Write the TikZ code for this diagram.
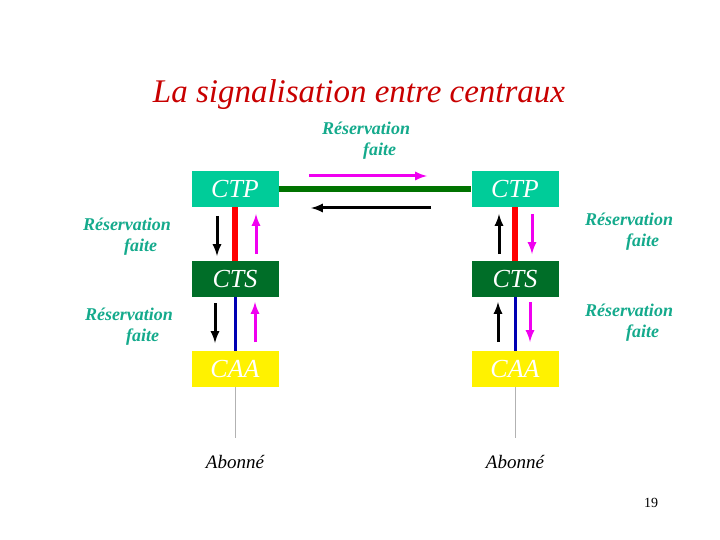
\documentclass[tikz,border=0pt]{standalone}
\usepackage{fontspec}
\setmainfont{Liberation Serif}
\definecolor{ctpfill}{RGB}{0,204,153}
\definecolor{ctsfill}{RGB}{0,110,40}
\definecolor{resa}{RGB}{20,170,140}
\definecolor{titlered}{RGB}{200,0,0}
\definecolor{sigpink}{RGB}{240,0,240}
\tikzset{
  box/.style={minimum width=87pt,minimum height=36pt,inner sep=0pt,
    text=white,font=\itshape\fontsize{26}{26}\selectfont},
  note/.style={text=resa,align=center,font=\bfseries\itshape\fontsize{18}{21}\selectfont},
  sig/.style={line width=3pt,-latex},
}
\begin{document}
\begin{tikzpicture}[x=1pt,y=-1pt]
  \useasboundingbox (0,0) rectangle (720,540);
  \node[text=titlered,font=\itshape\fontsize{33}{33}\selectfont] (title) at (359,95) {La signalisation entre centraux};
  % the two sides
  \foreach \s/\x in {L/235,R/515}{
    \node[box,fill=ctpfill] (ctp\s) at (\x,189) {CTP};
    \node[box,fill=ctsfill] (cts\s) at (\x,279) {CTS};
    \node[box,fill=yellow] (caa\s) at (\x,369) {CAA};
    \node[font=\itshape\fontsize{19}{19}\selectfont] (ab\s) at (\x,462) {Abonné};
    \coordinate (end\s) at (\x,438);
    \draw[red,line width=6pt] (ctp\s) -- (cts\s);
    \draw[blue!70!black,line width=3pt] (cts\s) -- (caa\s);
    \draw[gray!60,line width=1pt] (caa\s) -- (end\s);
  }
  \draw[green!45!black,line width=6pt] (ctpL) -- (ctpR);
  % signals
  \draw[sig,sigpink] (309,176) -- (427,176);
  \draw[sig,black] (431,208) -- (311,208);
  \draw[sig,black] (217,216) -- (217,256);
  \draw[sig,sigpink] (256,254) -- (256,214);
  \draw[sig,black] (215,303) -- (215,343);
  \draw[sig,sigpink] (255,342) -- (255,302);
  \draw[sig,black] (499,254) -- (499,214);
  \draw[sig,sigpink] (532,214) -- (532,254);
  \draw[sig,black] (498,342) -- (498,302);
  \draw[sig,sigpink] (530,302) -- (530,342);
  \node[note] (resTop) at (366,141) {Réservation\\ \hspace{1.5em}faite};
  \node[note] (resL1) at (127,237) {Réservation\\ \hspace{1.5em}faite};
  \node[note] (resL2) at (129,327) {Réservation\\ \hspace{1.5em}faite};
  \node[note] (resR1) at (629,232) {Réservation\\ \hspace{1.5em}faite};
  \node[note] (resR2) at (629,323) {Réservation\\ \hspace{1.5em}faite};
  \node[font=\fontsize{14}{14}\selectfont] (page) at (651,503) {19};
\end{tikzpicture}
\end{document}
